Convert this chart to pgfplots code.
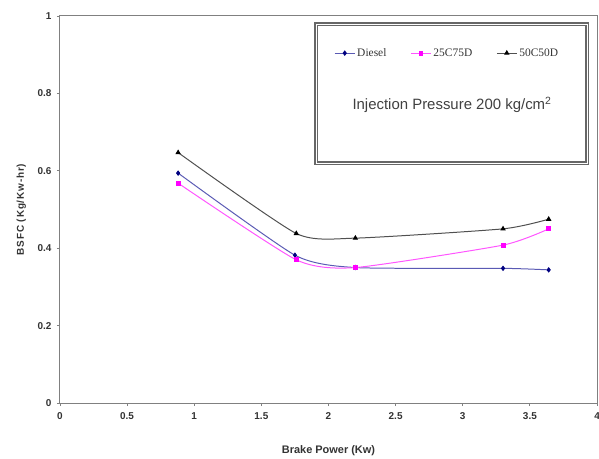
\documentclass[border=0pt]{standalone}
\usepackage{fontspec}
\setmainfont{Liberation Sans}
\newfontfamily\seriffont{Liberation Serif}
\usepackage{pgfplots}
\pgfplotsset{compat=1.18}
\definecolor{dieselline}{HTML}{5A5AB4}
\definecolor{dieselmark}{HTML}{000080}
\definecolor{pinkline}{HTML}{FF55FF}
\definecolor{pinkmark}{HTML}{FF00FF}
\definecolor{blackline}{HTML}{505050}
\definecolor{axgray}{HTML}{808080}
\begin{document}
\begin{tikzpicture}
\begin{axis}[
  scale only axis,
  width=537bp, height=387bp,
  xmin=0, xmax=4, ymin=0, ymax=1,
  xtick={0,0.5,...,4}, ytick={0,0.2,...,1},
  axis line style={axgray, line width=1pt},
  tick style={axgray, line width=0.8pt},
  tick align=outside, major tick length=3bp,
  xtick pos=bottom, ytick pos=left,
  /pgf/number format/assume math mode=true,
  /pgf/number format/fixed,
  ticklabel style={font=\fontsize{10}{11}\selectfont\bfseries, text=black!80},
  xticklabel style={yshift=-3bp},
  yticklabel style={xshift=-2bp},
  xlabel={Brake Power (Kw)}, ylabel={BSFC (Kg/Kw-hr)},
  xlabel style={font=\fontsize{11}{12}\selectfont\bfseries, text=black!80, at={(axis description cs:0.5,-0.122)}, anchor=center},
  ylabel style={font=\fontsize{10}{11}\selectfont\bfseries\addfontfeature{LetterSpace=8}, text=black!80, at={(axis description cs:-0.072,0.5)}, anchor=center, rotate=0},
  legend columns=3,
  legend style={draw=none, fill=none, at={(rel axis cs:0.721,0.904)}, anchor=center,
    font=\seriffont\fontsize{11.5}{12}\selectfont, text=black!80,
    /tikz/every even column/.append style={column sep=22bp}},
  legend image code/.code={\draw[#1] (0cm,0cm) -- (20bp,0cm); \draw[#1,only marks] plot coordinates {(10bp,0cm)};},
  clip=false,
]
\coordinate (bbbl) at (rel axis cs:-0.1117,-0.1421);
\coordinate (bbtr) at (rel axis cs:1.0037,1.0413);
\draw[axgray!80!black, double=white, line width=1.6pt, double distance=0.5pt]
  (rel axis cs:0.477,0.979) rectangle (rel axis cs:0.981,0.620);
\node[font=\fontsize{15}{17}\selectfont, text=black!75] at (rel axis cs:0.730,0.770) {Injection Pressure 200 kg/cm\textsuperscript{2}};
\addplot[dieselline, line width=1pt, smooth, tension=0.35, mark=diamond*, mark size=2pt, mark options={dieselmark, fill=dieselmark}]
  coordinates {(0.88,0.594) (1.75,0.382) (2.20,0.350) (3.30,0.348) (3.64,0.344)};
\addlegendentry{Diesel}
\addplot[pinkline, line width=1pt, smooth, tension=0.35, mark=square*, mark size=2pt, mark options={pinkmark, fill=pinkmark}]
  coordinates {(0.88,0.568) (1.76,0.370) (2.20,0.350) (3.30,0.408) (3.64,0.450)};
\addlegendentry{25C75D}
\addplot[blackline, line width=1pt, smooth, tension=0.35, mark=triangle*, mark size=2.2pt, mark options={black, fill=black}]
  coordinates {(0.88,0.647) (1.76,0.438) (2.20,0.426) (3.30,0.450) (3.64,0.475)};
\addlegendentry{50C50D}
\end{axis}
\pgfresetboundingbox
\path[use as bounding box] (bbbl) rectangle (bbtr);
\end{tikzpicture}
\end{document}
